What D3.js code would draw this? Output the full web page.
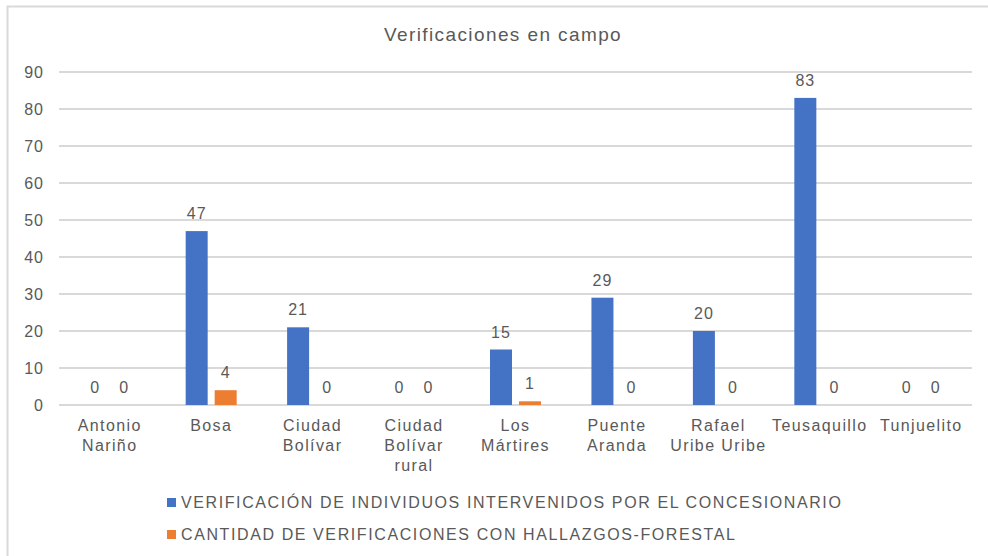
<!DOCTYPE html>
<html>
<head>
<meta charset="utf-8">
<script src="https://cdn.jsdelivr.net/npm/d3@7"></script>
<style>
  body { margin: 0; background: #fff; }
  svg { display: block; font-family: "Liberation Sans", Arial, sans-serif; }
</style>
</head>
<body>
<div id="chart"></div>
<script>
var chartWidth = 988;
var chartHeight = 556;

// Data
var districts = [
  ["Antonio", "Nariño"],
  ["Bosa"],
  ["Ciudad", "Bolívar"],
  ["Ciudad", "Bolívar", "rural"],
  ["Los", "Mártires"],
  ["Puente", "Aranda"],
  ["Rafael", "Uribe Uribe"],
  ["Teusaquillo"],
  ["Tunjuelito"]
];
var verificados = [0, 47, 21, 0, 15, 29, 20, 83, 0];
var hallazgos = [0, 4, 0, 0, 1, 0, 0, 0, 0];
var seriesNames = [
  "VERIFICACIÓN DE INDIVIDUOS INTERVENIDOS POR EL CONCESIONARIO",
  "CANTIDAD DE VERIFICACIONES CON HALLAZGOS-FORESTAL"
];
var seriesColors = ["#4472c4", "#ed7d31"];
var yTicks = [0, 10, 20, 30, 40, 50, 60, 70, 80, 90];

var plot = { left: 59, right: 972, top: 72, bottom: 405 };
var textColor = "#595959";

var svg = d3.select("#chart")
  .append("svg")
  .attr("width", chartWidth)
  .attr("height", chartHeight);

// chart frame (left and top edges visible)
svg.append("path")
  .attr("d", "M7.5," + chartHeight + "V6.5H" + chartWidth)
  .attr("fill", "none")
  .attr("stroke", "#d9d9d9")
  .attr("stroke-width", 2);

// title
svg.append("text")
  .attr("x", 503)
  .attr("y", 41)
  .attr("text-anchor", "middle")
  .attr("font-size", 19)
  .attr("letter-spacing", 1.4)
  .attr("fill", textColor)
  .text("Verificaciones en campo");

var x = d3.scaleBand()
  .domain(d3.range(districts.length))
  .range([plot.left, plot.right]);

var y = d3.scaleLinear()
  .domain([0, 90])
  .range([plot.bottom, plot.top]);

// gridlines
svg.append("g")
  .selectAll("line")
  .data(yTicks)
  .enter()
  .append("line")
  .attr("x1", plot.left)
  .attr("x2", plot.right)
  .attr("y1", function (d) { return y(d); })
  .attr("y2", function (d) { return y(d); })
  .attr("stroke", "#d9d9d9")
  .attr("stroke-width", 2);

// y axis labels
svg.append("g")
  .selectAll("text")
  .data(yTicks)
  .enter()
  .append("text")
  .attr("x", 44)
  .attr("y", function (d) { return y(d) + 6; })
  .attr("text-anchor", "end")
  .attr("font-size", 16)
  .attr("letter-spacing", 1)
  .attr("fill", textColor)
  .text(function (d) { return d; });

var barWidth = 22;
var barGap = 7;
var seriesValues = [verificados, hallazgos];

seriesValues.forEach(function (values, s) {
  var offset = s === 0 ? -(barGap / 2 + barWidth) : barGap / 2;
  var g = svg.append("g");
  g.selectAll("rect")
    .data(values)
    .enter()
    .append("rect")
    .attr("x", function (d, i) { return x(i) + x.bandwidth() / 2 + offset; })
    .attr("y", function (d) { return y(d); })
    .attr("width", barWidth)
    .attr("height", function (d) { return y(0) - y(d); })
    .attr("fill", seriesColors[s]);

  g.selectAll("text")
    .data(values)
    .enter()
    .append("text")
    .attr("x", function (d, i) { return x(i) + x.bandwidth() / 2 + offset + barWidth / 2; })
    .attr("y", function (d) { return y(d) - 12; })
    .attr("text-anchor", "middle")
    .attr("font-size", 16)
    .attr("letter-spacing", 1)
    .attr("fill", textColor)
    .text(function (d) { return d; });
});

// category labels
var cat = svg.append("g")
  .selectAll("text")
  .data(districts)
  .enter()
  .append("text")
  .attr("x", function (d, i) { return x(i) + x.bandwidth() / 2; })
  .attr("y", 431)
  .attr("text-anchor", "middle")
  .attr("font-size", 16)
  .attr("letter-spacing", 1.4)
  .attr("fill", textColor);

cat.selectAll("tspan")
  .data(function (d) { return d; })
  .enter()
  .append("tspan")
  .attr("x", function () { return d3.select(this.parentNode).attr("x"); })
  .attr("dy", function (d, i) { return i === 0 ? 0 : 20; })
  .text(function (d) { return d; });

// legend
var legend = svg.append("g")
  .selectAll("g")
  .data(seriesNames)
  .enter()
  .append("g")
  .attr("transform", function (d, i) { return "translate(167," + (498 + i * 32) + ")"; });

legend.append("rect")
  .attr("width", 9)
  .attr("height", 9)
  .attr("fill", function (d, i) { return seriesColors[i]; });

legend.append("text")
  .attr("x", 14)
  .attr("y", 10)
  .attr("font-size", 16)
  .attr("letter-spacing", 1.6)
  .attr("fill", textColor)
  .text(function (d) { return d; });
</script>
</body>
</html>
